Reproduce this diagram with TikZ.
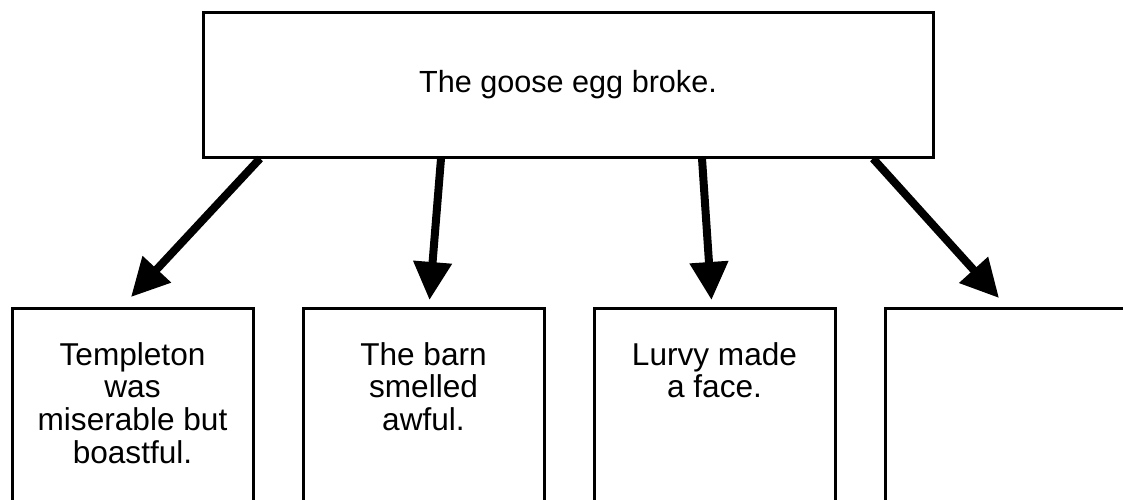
\documentclass[tikz,border=0pt]{standalone}
\usepackage{fontspec}
\setmainfont{Liberation Sans}
\usetikzlibrary{arrows.meta,positioning}
\begin{document}
\begin{tikzpicture}[x=0.5pt,y=-0.5pt,>={Triangle[length=19pt,width=18.5pt]},
	event/.style={draw,line width=1.5pt,minimum width=365pt,minimum height=72.5pt,font=\fontsize{15.3}{16.5}\selectfont},
	effect/.style={draw,line width=1.5pt,minimum width=120.5pt,minimum height=120pt,anchor=north},
	effecttext/.style={anchor=north,inner sep=0pt,align=center,font=\fontsize{15.8}{16.3}\selectfont},
	cause/.style={->,line width=4pt}]
	\clip (0,0) rectangle (1123,499);
	\node[event] (egg) at (568,84.5) {The goose egg broke.};
	\node[effect] (e1) at (132.5,307) {};
	\node[effect,right=23.5pt of e1] (e2) {};
	\node[effect,right=23.5pt of e2] (e3) {};
	\node[effect,right=23.5pt of e3] (e4) {};
	\node[effecttext] (t1) at ([yshift=-17.5pt]e1.north) {Templeton\\was\\miserable but\\boastful.};
	\node[effecttext] (t2) at ([yshift=-17.5pt]e2.north) {The barn\\smelled\\awful.};
	\node[effecttext] (t3) at ([yshift=-17.5pt]e3.north) {Lurvy made\\a face.};
	\draw[cause] ([xshift=-154pt]egg.south) -- ([xshift=-0.75pt,yshift=5pt]e1.north);
	\draw[cause] ([xshift=-63.5pt]egg.south) -- ([xshift=3pt,yshift=3.5pt]e2.north);
	\draw[cause] ([xshift=67pt]egg.south) -- ([xshift=-1.5pt,yshift=3.5pt]e3.north);
	\draw[cause] ([xshift=152.5pt]egg.south) -- ([xshift=-3.25pt,yshift=4.5pt]e4.north);
	%	\node[effecttext] (t4) at ([yshift=-17.5pt]e4.north) {};
\end{tikzpicture}
\end{document}
